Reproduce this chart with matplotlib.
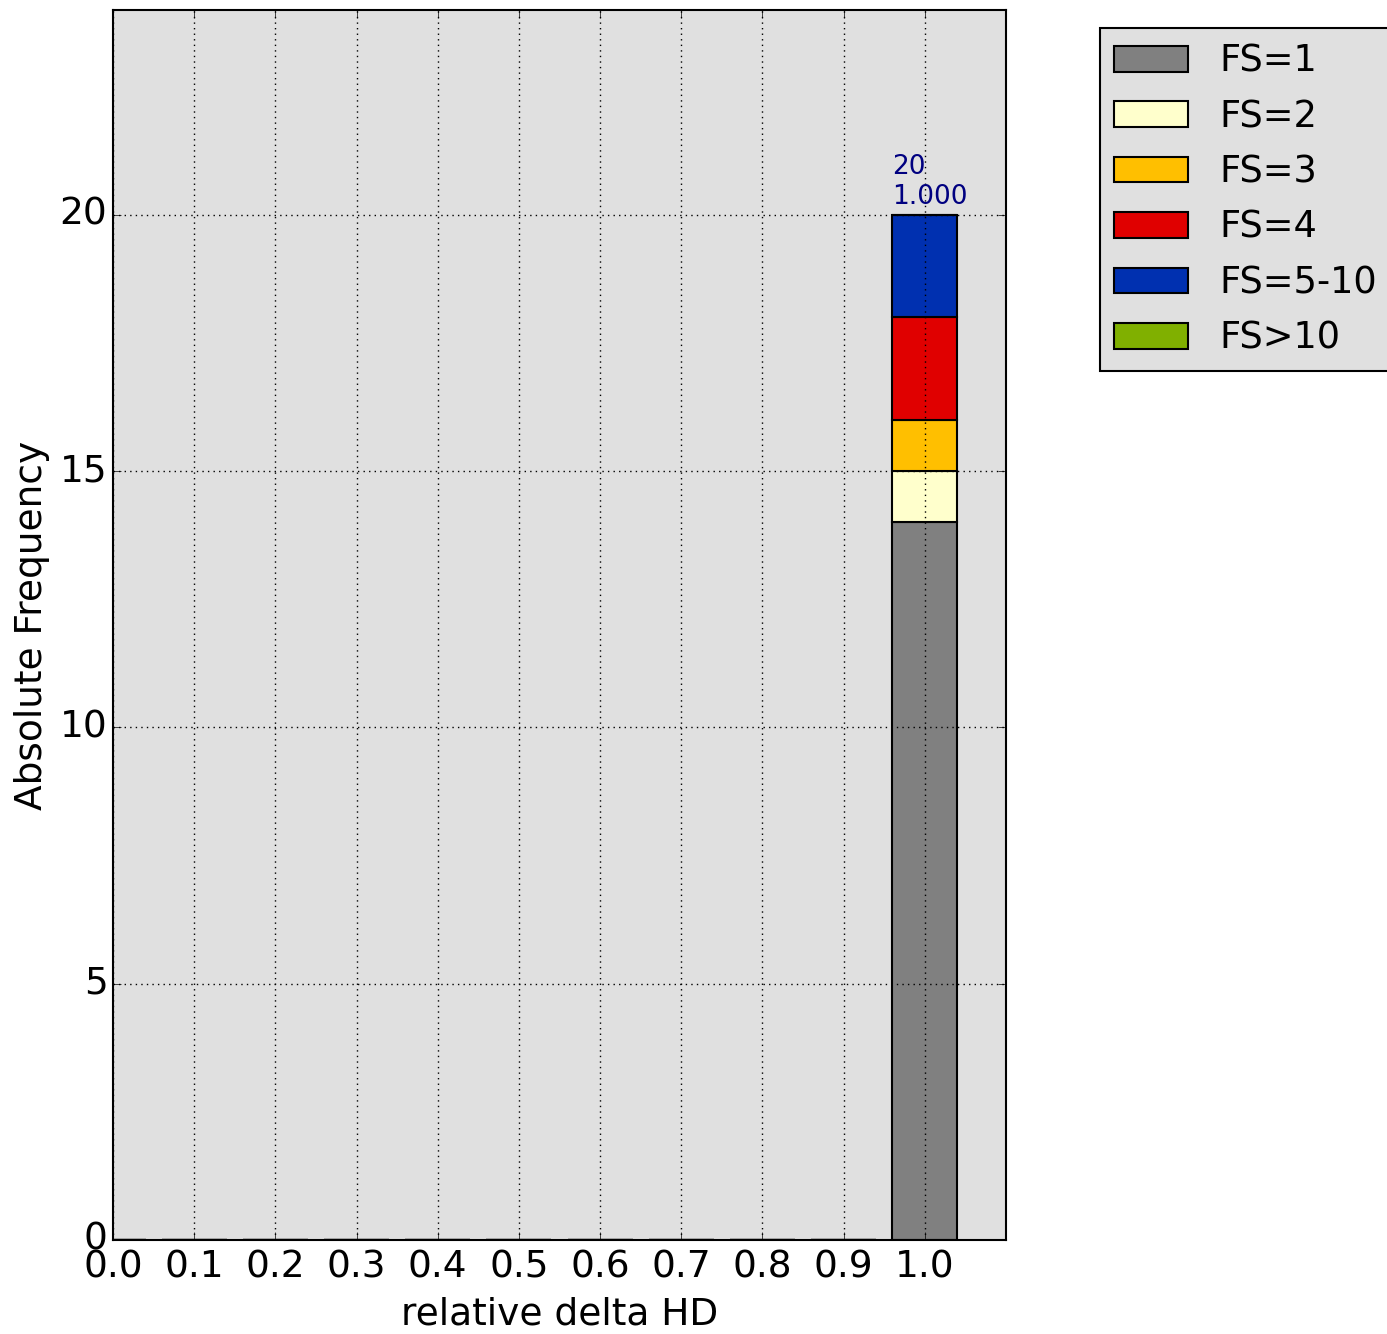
import numpy as np
import matplotlib.pyplot as plt

plt.style.use('classic')

# histogram bins (relative delta HD) and counts per FS class
bins = [0.0, 0.1, 0.2, 0.3, 0.4, 0.5, 0.6, 0.7, 0.8, 0.9, 1.0]
labels = ['FS=1', 'FS=2', 'FS=3', 'FS=4', 'FS=5-10', 'FS>10']
colors = ['#808080', '#ffffcc', '#ffbf00', '#e00000', '#0030b0', '#80b000']
counts = {
    'FS=1':    [0, 0, 0, 0, 0, 0, 0, 0, 0, 0, 14],
    'FS=2':    [0, 0, 0, 0, 0, 0, 0, 0, 0, 0, 1],
    'FS=3':    [0, 0, 0, 0, 0, 0, 0, 0, 0, 0, 1],
    'FS=4':    [0, 0, 0, 0, 0, 0, 0, 0, 0, 0, 2],
    'FS=5-10': [0, 0, 0, 0, 0, 0, 0, 0, 0, 0, 2],
    'FS>10':   [0, 0, 0, 0, 0, 0, 0, 0, 0, 0, 0],
}

BAR_W = 0.08
FS = 27

fig = plt.figure(figsize=(13.87, 13.34), dpi=100, facecolor='white')
ax = fig.add_axes([0.0815, 0.0705, 0.6438, 0.922])
ax.set_facecolor('#e0e0e0')

x = np.array(bins)
bottom = np.zeros(len(bins))
for lab, col in zip(labels, colors):
    h = np.array(counts[lab])
    ax.bar(x, h, BAR_W, bottom=bottom, color=col, edgecolor='black',
           linewidth=1.5, align='center', label=lab)
    bottom += h

total = bottom.sum()
for xi, b in zip(x, bottom):
    if b > 0:
        ax.text(xi - BAR_W / 2, b + 0.1, f'{int(b)}\n{b / total:.3f}',
                color='#000080', fontsize=19, ha='left', va='bottom')

ax.set_xlim(0, 1.1)
ax.set_ylim(0, 24)
ax.set_xticks(bins)
ax.set_xticklabels([f'{b:.1f}' for b in bins])
ax.set_yticks([0, 5, 10, 15, 20])
ax.tick_params(labelsize=FS, length=6)
ax.tick_params(axis='x', pad=7)
ax.grid(True, color='black', linestyle=':', linewidth=1)
ax.set_xlabel('relative delta HD', fontsize=FS, labelpad=8)
ax.set_ylabel('Absolute Frequency', fontsize=FS, labelpad=7)
for s in ax.spines.values():
    s.set_linewidth(1.5)

leg = ax.legend(loc='upper left', bbox_to_anchor=(1.105, 0.9854), fontsize=26.5,
                borderaxespad=0, handlelength=2.0, handleheight=0.7,
                labelspacing=0.5, borderpad=0.4, handletextpad=0.85,
                fancybox=False)
leg.get_frame().set_facecolor('#e0e0e0')
leg.get_frame().set_linewidth(1.5)

fig.savefig('out.png', dpi=100, facecolor='white')
